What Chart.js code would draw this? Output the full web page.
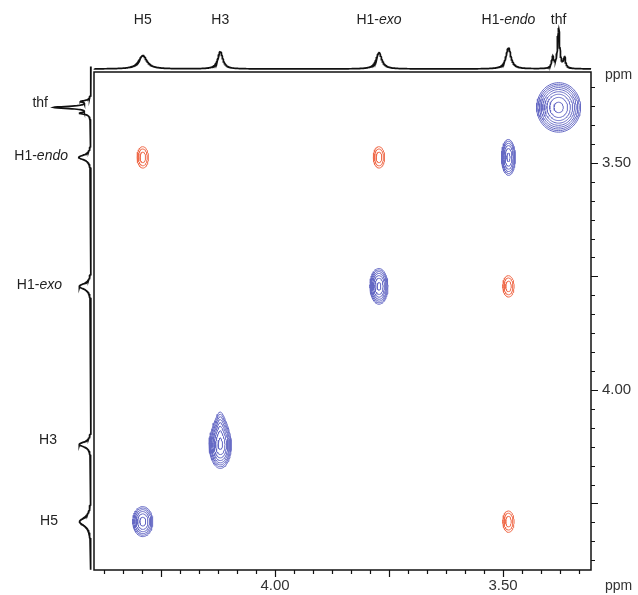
<!DOCTYPE html>
<html>
<head>
<meta charset="utf-8">
<script src="https://cdn.jsdelivr.net/npm/chart.js@4.4.1/dist/chart.umd.min.js"></script>
<style>
  html, body { margin: 0; padding: 0; background: #fff; }
  #wrap { position: relative; width: 638px; height: 595px; }
  canvas { position: absolute; left: 0; top: 0; }
</style>
</head>
<body>
<div id="wrap">
  <canvas id="main" width="638" height="595"></canvas>
  <canvas id="top" width="638" height="72"></canvas>
  <canvas id="left" width="94" height="595"></canvas>
</div>
<script>
// signal names and chemical shifts (ppm), same on both axes
const signalNames = ['H5', 'H3', 'H1-exo', 'H1-endo', 'thf'];
const signalShifts = [4.290, 4.120, 3.772, 3.488, 3.378];

// 1D projections: individual lines (thf is a multiplet)
const lineShifts  = [4.290, 4.120, 3.772, 3.488, 3.391, 3.378, 3.365];
const lineWidths  = [0.011, 0.0065, 0.0075, 0.0065, 0.0026, 0.003, 0.0026];
const topHeights  = [0.33, 0.43, 0.40, 0.52, 0.27, 0.98, 0.26];
const leftHeights = [0.30, 0.31, 0.31, 0.32, 0.25, 0.95, 0.23];

// 2D peaks: F2 (x) and F1 (y) positions, amplitude, widths, sign, skew
const peakX    = [4.290, 4.120, 3.772, 3.488, 3.378, 4.290, 3.772, 3.488, 3.488];
const peakY    = [4.290, 4.120, 3.772, 3.488, 3.378, 3.488, 3.488, 3.772, 4.290];
const peakAmp  = [4.2, 6.8, 5.2, 4.0, 9.0, 2.0, 2.0, 2.0, 2.0];
const peakSx   = [0.013, 0.0125, 0.0109, 0.0092, 0.023, 0.0105, 0.0105, 0.0105, 0.0105];
const peakSy   = [0.0195, 0.027, 0.0217, 0.0237, 0.026, 0.020, 0.020, 0.020, 0.020];
const peakSign = [1, 1, 1, 1, 1, -1, -1, -1, -1];
const peakSkew = [0, 0.35, 0, 0, 0, 0, 0, 0, 0];
const contourLevels = [1, 1.3, 1.69, 2.2, 2.86, 3.71, 4.83, 6.27, 8.16];

// axes
const X_MIN = 3.307, X_MAX = 4.397;
const Y_MIN = 3.300, Y_MAX = 4.3965;
const tickLabels = [4.00, 3.50];
const MINOR_STEP = 0.25 / 6;

const BLUE = '#6569c4';
const RED = '#ef6c4c';
const FONT = "'Liberation Sans', Arial, sans-serif";

function ring(i, level) {
  const r = Math.sqrt(2 * Math.log(peakAmp[i] / level));
  const rx = peakSx[i] * r, ry = peakSy[i] * r, sk = peakSkew[i];
  const pts = [];
  for (let k = 0; k <= 72; k++) {
    const t = k / 72 * Math.PI * 2;
    const c = Math.cos(t), s = Math.sin(t);
    const up = s < 0 ? -s : 0;
    pts.push({
      x: peakX[i] + rx * c * (1 - sk * 1.1 * up * up),
      y: peakY[i] + ry * s * (1 + sk * up)
    });
  }
  return pts;
}

const contourSets = [];
peakX.forEach((_, i) => {
  contourLevels.filter(l => l < peakAmp[i]).forEach(l => {
    contourSets.push({
      data: ring(i, l),
      showLine: true,
      borderColor: peakSign[i] > 0 ? BLUE : RED,
      borderWidth: 1,
      pointRadius: 0
    });
  });
});

function projection(heights, v) {
  let s = 0;
  for (let j = 0; j < lineShifts.length; j++) {
    const d = (v - lineShifts[j]) / lineWidths[j];
    s += heights[j] / (1 + d * d);
  }
  return s;
}

const topData = [], leftData = [];
for (let v = X_MIN; v <= X_MAX; v += 0.0005) topData.push({ x: v, y: projection(topHeights, v) });
for (let v = Y_MIN - 0.012; v <= Y_MAX; v += 0.0005) leftData.push({ x: projection(leftHeights, v), y: v });

const LABEL_SIZE = 14;
function drawName(ctx, name, x, y, align) {
  const dash = name.indexOf('-');
  const a = dash >= 0 ? name.slice(0, dash + 1) : name;
  const b = dash >= 0 ? name.slice(dash + 1) : '';
  ctx.font = LABEL_SIZE + 'px ' + FONT;
  const wa = ctx.measureText(a).width;
  ctx.font = 'italic ' + LABEL_SIZE + 'px ' + FONT;
  const wb = ctx.measureText(b).width;
  const w = wa + wb;
  const x0 = align === 'center' ? x - w / 2 : x - w;
  ctx.textAlign = 'left';
  ctx.textBaseline = 'middle';
  ctx.font = LABEL_SIZE + 'px ' + FONT;
  ctx.fillText(a, x0, y);
  ctx.font = 'italic ' + LABEL_SIZE + 'px ' + FONT;
  ctx.fillText(b, x0 + wa, y);
}

const leftLabelRight = [58, 57, 62, 68, 48];
const leftLabelDy = [0, -4, -1, -1, -4];

const decor = {
  id: 'decor',
  afterDraw(chart) {
    const { ctx, chartArea: a, scales: { x, y } } = chart;
    ctx.save();
    ctx.strokeStyle = '#111';
    ctx.lineWidth = 1.5;
    ctx.strokeRect(a.left, a.top, a.right - a.left, a.bottom - a.top);
    ctx.lineWidth = 1.2;
    ctx.beginPath();
    for (let k = -30; k <= 30; k++) {
      const v = 3.5 + k * MINOR_STEP;
      const len = (k % 6 === 0) ? 7 : 4;
      if (v > x.min + 0.005 && v < x.max - 0.005) {
        const px = Math.round(x.getPixelForValue(v)) + 0.5;
        ctx.moveTo(px, a.bottom); ctx.lineTo(px, a.bottom + len);
      }
      if (v > y.min + 0.005 && v < y.max - 0.005) {
        const py = Math.round(y.getPixelForValue(v)) + 0.5;
        ctx.moveTo(a.right, py); ctx.lineTo(a.right + len, py);
      }
    }
    ctx.stroke();

    ctx.fillStyle = '#333';
    ctx.font = '14px ' + FONT;
    ctx.textAlign = 'left';
    ctx.textBaseline = 'middle';
    ctx.fillText('ppm', 605, 586);
    ctx.fillText('ppm', 605, 75);

    ctx.fillStyle = '#222';
    signalNames.forEach((n, i) => {
      drawName(ctx, n, x.getPixelForValue(signalShifts[i]), 20, 'center');
      drawName(ctx, n, leftLabelRight[i], y.getPixelForValue(signalShifts[i]) + leftLabelDy[i], 'right');
    });
    ctx.restore();
  }
};

const tickFont = { family: FONT, size: 15 };

new Chart(document.getElementById('main'), {
  type: 'scatter',
  data: { datasets: contourSets },
  options: {
    responsive: false,
    animation: false,
    layout: { padding: { left: 94, top: 72, right: 0, bottom: 0 } },
    plugins: { legend: { display: false }, tooltip: { enabled: false } },
    scales: {
      x: {
        type: 'linear', reverse: true, min: X_MIN, max: X_MAX, position: 'bottom',
        grid: { display: false, drawTicks: false }, border: { display: false },
        afterBuildTicks: s => { s.ticks = tickLabels.map(v => ({ value: v })); },
        afterFit: s => { s.height = 25; },
        ticks: { padding: 7, color: '#333', font: tickFont, callback: v => Number(v).toFixed(2) }
      },
      y: {
        type: 'linear', reverse: true, min: Y_MIN, max: Y_MAX, position: 'right',
        grid: { display: false, drawTicks: false }, border: { display: false },
        afterBuildTicks: s => { s.ticks = tickLabels.map(v => ({ value: v })); },
        afterFit: s => { s.width = 47; },
        ticks: { padding: 11, color: '#333', font: tickFont, callback: v => Number(v).toFixed(2) }
      }
    }
  },
  plugins: [decor]
});

new Chart(document.getElementById('top'), {
  type: 'scatter',
  data: { datasets: [{ data: topData, showLine: true, borderColor: '#111', borderWidth: 1.7, pointRadius: 0, clip: false }] },
  options: {
    responsive: false, animation: false,
    layout: { padding: { left: 94, right: 47, top: 20, bottom: 3 } },
    plugins: { legend: { display: false }, tooltip: { enabled: false } },
    scales: {
      x: { type: 'linear', reverse: true, min: X_MIN, max: X_MAX, display: false },
      y: { type: 'linear', min: 0, max: 1.2, display: false }
    }
  }
});

new Chart(document.getElementById('left'), {
  type: 'scatter',
  data: { datasets: [{ data: leftData, showLine: true, borderColor: '#111', borderWidth: 1.7, pointRadius: 0, clip: false }] },
  options: {
    responsive: false, animation: false,
    layout: { padding: { left: 45, right: 3, top: 72, bottom: 25 } },
    plugins: { legend: { display: false }, tooltip: { enabled: false } },
    scales: {
      x: { type: 'linear', reverse: true, min: 0, max: 1.2, display: false },
      y: { type: 'linear', reverse: true, min: Y_MIN, max: Y_MAX, display: false }
    }
  }
});
</script>
</body>
</html>
